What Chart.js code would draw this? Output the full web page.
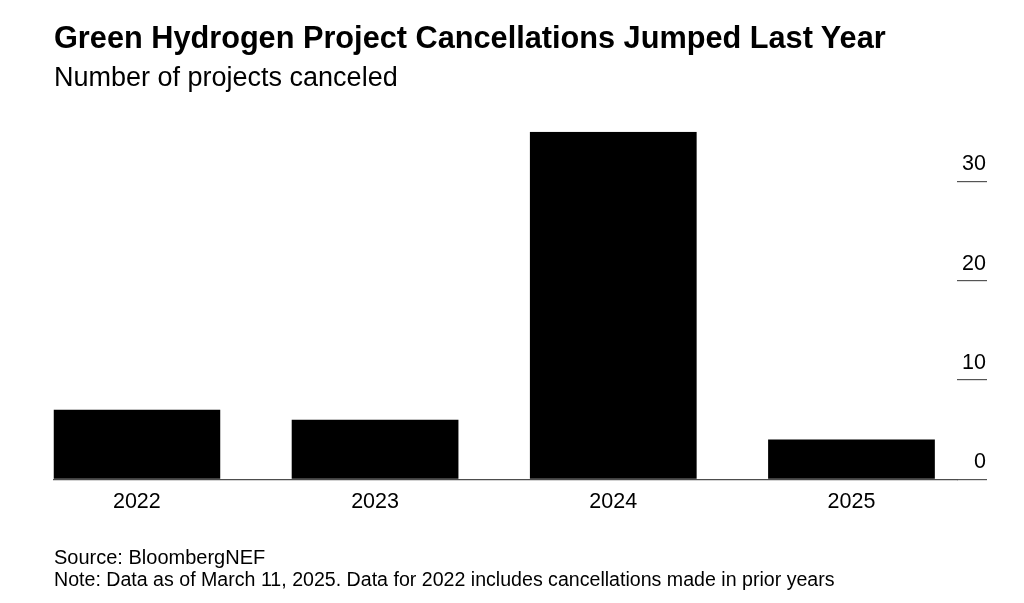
<!DOCTYPE html>
<html><head><meta charset="utf-8">
<script src="https://cdn.jsdelivr.net/npm/chart.js@4"></script>
<style>
html,body{margin:0;padding:0;background:#fff;width:1024px;height:603px;overflow:hidden;font-family:"Liberation Sans",Arial,sans-serif;color:#000}
.t{position:absolute;left:54px;white-space:nowrap;line-height:1}
#title{top:23px;font-size:30.7px;font-weight:bold}
#sub{top:64px;font-size:27px}
#src{top:547px;font-size:20px}
#note{top:570px;font-size:19.6px}
#wrap{position:absolute;left:0;top:0;width:1024px;height:603px}
</style></head><body>
<div id="wrap"><canvas id="c"></canvas></div>
<div class="t" id="title">Green Hydrogen Project Cancellations Jumped Last Year</div>
<div class="t" id="sub">Number of projects canceled</div>
<div class="t" id="src">Source: BloombergNEF</div>
<div class="t" id="note">Note: Data as of March 11, 2025. Data for 2022 includes cancellations made in prior years</div>
<script>
const years = ['2022', '2023', '2024', '2025'];
const cancellations = [7, 6, 35, 4];
const yTicks = [0, 10, 20, 30];

const points = years.map((y, i) => ({x: i, y: cancellations[i]}));

new Chart(document.getElementById('c'), {
  type: 'bar',
  data: {
    datasets: [{
      data: points,
      backgroundColor: '#000',
      borderWidth: 0,
      categoryPercentage: 1,
      barPercentage: 0.7
    }]
  },
  options: {
    responsive: true,
    maintainAspectRatio: false,
    animation: false,
    layout: {padding: {left: 53.5, right: 37, top: 131.7, bottom: 83.7}},
    plugins: {legend: {display: false}, tooltip: {enabled: false}},
    scales: {
      x: {
        type: 'linear',
        offset: false,
        min: -0.35,
        max: 3.443,
        afterFit: (s) => { s.height = 40; },
        afterBuildTicks: (s) => { s.ticks = years.map((_, i) => ({value: i})); },
        grid: {display: false, drawTicks: false, offset: false},
        border: {display: true, color: '#4d4d4d', width: 1.2},
        ticks: {
          padding: 10,
          color: '#000',
          font: {family: 'Liberation Sans', size: 21.5},
          callback: (v) => years[v] ?? ''
        }
      },
      y: {
        position: 'right',
        min: 0,
        max: 35,
        afterFit: (s) => { s.width = 30; },
        afterBuildTicks: (s) => { s.ticks = yTicks.map(v => ({value: v})); },
        grid: {display: true, drawOnChartArea: false, drawTicks: true, tickLength: 30, color: '#555', lineWidth: 1.2},
        border: {display: false},
        ticks: {
          mirror: true,
          padding: 29,
          labelOffset: -17,
          color: '#000',
          font: {family: 'Liberation Sans', size: 21.5}
        }
      }
    }
  }
});
</script>
</body></html>
